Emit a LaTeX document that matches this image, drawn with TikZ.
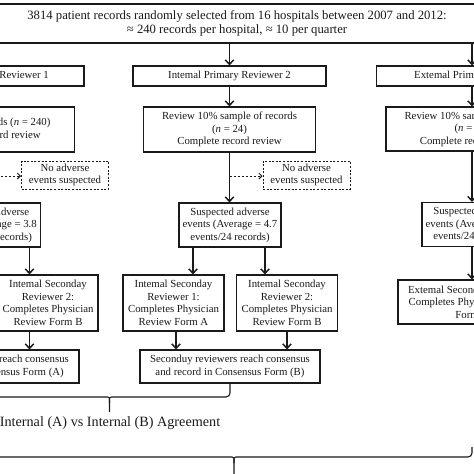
\documentclass[tikz,border=0pt]{standalone}
\usepackage{fontspec}
\setmainfont{Liberation Serif}
\usetikzlibrary{arrows.meta,calc}
\definecolor{ink}{HTML}{1A1A1A}
\newcommand\boxfont{\fontsize{10.8}{12.5}\selectfont}
\newcommand\topfont{\fontsize{12.7}{14}\selectfont}
\newcommand\agrfont{\fontsize{14.2}{16}\selectfont}
\begin{document}
\begin{tikzpicture}[x=1pt,y=-1pt,
  box/.style={draw=ink, line width=1.2pt, align=center, font=\boxfont, inner sep=1pt, text=ink},
  dbox/.style={box, dash pattern=on 2pt off 1.6pt, line width=1pt},
  arr/.style={draw=ink, line width=1.6pt, -{Straight Barb[length=4.5pt,width=8.5pt,line width=1.5pt]}},
  darr/.style={draw=ink, line width=0.9pt, dash pattern=on 2.5pt off 1.5pt, -{Straight Barb[length=3pt,width=6pt]}},
  brc/.style={draw=ink, line width=1.1pt}]
\useasboundingbox (0,0) rectangle (474,474);
\fill[white] (0,0) rectangle (474,474);
\clip (0,0) rectangle (474,474);

% top box
\node[box, minimum width=540pt, minimum height=39pt, font=\topfont] (top) at (237,23.5)
  {3814 patient records randomly selected from 16 hospitals between 2007 and 2012:\\
   ≈ 240 records per hospital, ≈ 10 per quarter};

% primary reviewers
\node[box, minimum width=193pt, minimum height=20pt] (Lrev) at (-12.5,76) {Intemal Primary Reviewer 1};
\node[box, minimum width=193pt, minimum height=20pt] (Mrev) at (229.5,76) {Intemal Primary Reviewer 2};
\node[box, minimum width=193pt, minimum height=20pt] (Rrev) at (473,76) {Extemal Primary Reviewer};

% review boxes
\node[box, minimum width=172pt, minimum height=45pt] (Lsam) at (-11.5,129.5)
  {Review all records (\textit{n} = 240)\\Complete record review};
\node[box, minimum width=172pt, minimum height=45pt] (Msam) at (229.5,129.5)
  {Review 10\% sample of records\\(\textit{n} = 24)\\Complete record review};
\node[box, minimum width=172pt, minimum height=44pt] (Rsam) at (472,129)
  {Review 10\% sample of records\\(\textit{n} = 24)\\Complete record review};

% no adverse events
\node[dbox, minimum width=87pt, minimum height=28pt] (Lno) at (65,175) {No adverse\\events suspected};
\node[dbox, minimum width=87pt, minimum height=28pt] (Mno) at (306.5,175) {No adverse\\events suspected};
\coordinate (Ld) at (-11.5,176);
\coordinate (Md) at (229.5,176);

% suspected
\node[box, minimum width=102pt, minimum height=44pt] (Lsus) at (-10.5,225)
  {Suspected adverse\\events (Average = 3.8\\events/240 records)};
\node[box, minimum width=102pt, minimum height=44pt] (Msus) at (230,225)
  {Suspected adverse\\events (Average = 4.7\\events/24 records)};
\node[box, minimum width=102pt, minimum height=44pt] (Rsus) at (473,224.5)
  {Suspected adverse\\events (Average = 4.5\\events/24 records)};

% secondary reviewers
\node[box, minimum width=100pt, minimum height=56pt] (L2) at (48,303)
  {Intemal Seconday\\Reviewer 2:\\Completes Physician\\Review Form B};
\node[box, minimum width=101pt, minimum height=56pt] (M1) at (173.5,303)
  {Intemal Seconday\\Reviewer 1:\\Completes Physician\\Review Form A};
\node[box, minimum width=101pt, minimum height=56pt] (M2) at (287,303)
  {Intemal Seconday\\Reviewer 2:\\Completes Physician\\Review Form B};
\node[box, minimum width=148pt, minimum height=44pt] (R2) at (472,302)
  {Extemal Seconday Reviewer:\\Completes Physician Review\\Form C};

% consensus
\node[box, minimum width=180pt, minimum height=33pt] (Lcon) at (-11,366.5)
  {Seconduy reviewers reach consensus\\and record in Consensus Form (A)};
\node[box, minimum width=180pt, minimum height=33pt] (Mcon) at (230,366.5)
  {Seconduy reviewers reach consensus\\and record in Consensus Form (B)};

% arrow x positions
\coordinate (Lx) at (29.5,0);
\coordinate (Max) at (193,0);
\coordinate (Mbx) at (265,0);
\coordinate (Mcx) at (176,0);
\coordinate (Mdx) at (287,0);
\coordinate (Rx) at (472,0);

% arrows
\draw[arr] (top.south -| Lrev) -- (Lrev.north);
\draw[arr] (top.south -| Mrev) -- (Mrev.north);
\draw[arr] (top.south -| Rx) -- (Rrev.north -| Rx);
\draw[arr] (Lrev.south -| Lsam) -- (Lsam.north);
\draw[arr] (Mrev.south) -- (Msam.north);
\draw[arr] (Rrev.south -| Rx) -- (Rsam.north -| Rx);
\draw[arr] (Lsam.south) -- (Lsus.north -| Lsam);
\draw[arr] (Msam.south) -- (Msus.north -| Msam);
\draw[arr] (Rsam.south -| Rx) -- (Rsus.north -| Rx);
\draw[darr] (Ld) -- (Lno.west |- Ld);
\draw[darr] (Md) -- (Mno.west |- Md);
\draw[arr] (Lsus.south -| Lx) -- (L2.north -| Lx);
\draw[arr] (Msus.south -| Max) -- (M1.north -| Max);
\draw[arr] (Msus.south -| Mbx) -- (M2.north -| Mbx);
\draw[arr] (Rsus.south -| Rx) -- (R2.north -| Rx);
\draw[arr] (L2.south -| Lx) -- (Lcon.north -| Lx);
\draw[arr] (M1.south -| Mcx) -- (Mcon.north -| Mcx);
\draw[arr] (M2.south -| Mdx) -- (Mcon.north -| Mdx);

% brace 1
\coordinate (b1) at (109.5,397);
\coordinate (b1t) at (109.5,412);
\draw[brc] (Mcon.south) [rounded corners=4pt] |- ($(b1)+(6,0)$) [sharp corners] .. controls (b1) .. ($(b1)+(0,6)$) -- (b1t);
\draw[brc] (Lcon.south) [rounded corners=4pt] |- ($(b1)+(-6,0)$) [sharp corners] .. controls (b1) .. ($(b1)+(0,6)$);
\node[font=\agrfont, text=ink] (agr) at (110,423) {Internal (A) vs Internal (B) Agreement};

% brace 2
\coordinate (b2) at (234,457);
\coordinate (b2t) at (234,480);
\coordinate (b2l) at (-4,447);
\coordinate (b2r) at (472,447);
\draw[brc] (b2r) [rounded corners=4pt] |- ($(b2)+(6,0)$) [sharp corners] .. controls (b2) .. ($(b2)+(0,6)$) -- (b2t);
\draw[brc] (b2l) [rounded corners=4pt] |- ($(b2)+(-6,0)$) [sharp corners] .. controls (b2) .. ($(b2)+(0,6)$);
\end{tikzpicture}
\end{document}
